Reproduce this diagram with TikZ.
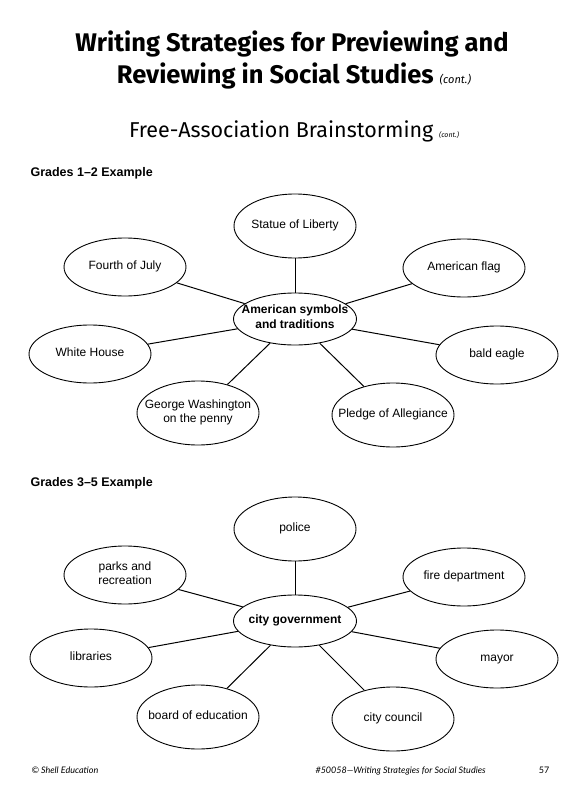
\documentclass[tikz,border=0pt]{standalone}
\usepackage{fontspec}
\setmainfont{Liberation Sans}
\newfontfamily\headfont{Fira Sans}
\newfontfamily\footfont{Lato}
\usepackage{tikz}
\usetikzlibrary{positioning,shapes.geometric}

\begin{document}
\begin{tikzpicture}[x=1pt,y=-1pt,on grid,font=\fontsize{12}{14}\selectfont,
  hub/.style={ellipse,draw,line width=0.9pt,minimum width=123pt,minimum height=52pt,
    inner xsep=-30pt,inner ysep=-8pt,align=center,font=\fontsize{12}{14.5}\selectfont\bfseries,
    execute at begin node=\strut,execute at end node=\strut},
  leaf/.style={ellipse,draw,line width=0.9pt,minimum width=122pt,minimum height=58pt,
    inner xsep=-30pt,inner ysep=-8pt,align=center,
    execute at begin node=\strut,execute at end node=\strut},
  tall/.style={leaf,minimum height=64pt},
  lnk/.style={line width=1pt},
  head/.style={anchor=base,font=\headfont\bfseries\fontsize{25.5}{30}\selectfont},
  grade/.style={anchor=base west,font=\fontsize{12.5}{14}\selectfont\bfseries},
  foot/.style={anchor=base,font=\footfont\fontsize{9}{11}\selectfont}]
\useasboundingbox (0,0) rectangle (574,800);

% heading
\node[head] (t1) at (292,52) {Writing Strategies for Previewing and};
\node[head] (t2) at (294,83) {Reviewing in Social Studies {\mdseries\itshape\fontsize{11}{13}\selectfont(cont.)}};
\node[anchor=base,font=\headfont\fontsize{21.5}{25}\selectfont] (t3) at (294,137)
  {Free-Association Brainstorming {\itshape\fontsize{7}{9}\selectfont(cont.)}};

% grades 1-2
\node[grade] (g1) at (27,176) {Grades 1–2 Example};
\node[hub] (sym) at (295,319) {American symbols\\and traditions};
\node[tall,above=93pt of sym] (liberty) {Statue of Liberty};
\node[leaf,above left=52pt and 170pt of sym] (july) {Fourth of July};
\node[leaf,above right=51pt and 169pt of sym] (flag) {American flag};
\node[leaf,below left=35pt and 205pt of sym] (house) {White House};
\node[leaf,below right=36pt and 202pt of sym] (eagle) {bald eagle};
\node[tall,below left=94pt and 97pt of sym] (penny) {George Washington\\on the penny};
\node[tall,below right=96pt and 98pt of sym] (pledge) {Pledge of Allegiance};
\foreach \n in {liberty,july,flag,house,eagle,penny,pledge}
  \draw[lnk] (sym) -- (\n);

% grades 3-5
\node[grade] (g2) at (27,486) {Grades 3–5 Example};
\node[hub] (gov) at (295,621) {city government};
\node[tall,above=92pt of gov] (police) {police};
\node[leaf,above left=46pt and 170pt of gov] (parks) {parks and\\recreation};
\node[leaf,above right=44pt and 169pt of gov] (fire) {fire department};
\node[leaf,below left=37pt and 204pt of gov] (lib) {libraries};
\node[leaf,below right=38pt and 202pt of gov] (mayor) {mayor};
\node[tall,below left=96pt and 97pt of gov] (board) {board of education};
\node[tall,below right=98pt and 98pt of gov] (council) {city council};
\foreach \n in {police,parks,fire,lib,mayor,board,council}
  \draw[lnk] (gov) -- (\n);

% footer
\node[foot,anchor=base west] (copy) at (28,773) {\itshape © Shell Education};
\node[foot,anchor=base west] (series) at (312,773) {\itshape\#50058—Writing Strategies for Social Studies};
\node[foot] (page) at (544,773) {57};
\end{tikzpicture}
\end{document}
